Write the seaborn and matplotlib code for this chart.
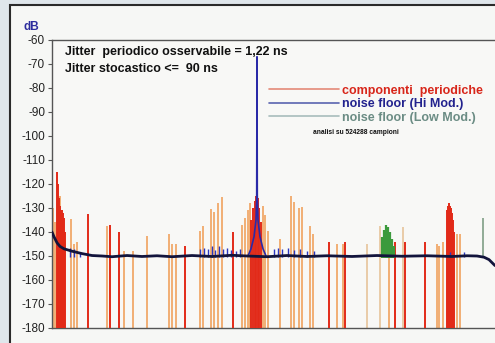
import numpy as np
import pandas as pd
import matplotlib
matplotlib.use("Agg")
import matplotlib.pyplot as plt
from matplotlib.lines import Line2D
from matplotlib.patches import Rectangle
import seaborn as sns

# === Data (x = frequency bin, y = dB) ===
red_x = [5, 6, 7, 8, 9, 10, 11, 12, 13, 36, 58, 67, 133, 181,
         199, 201, 203, 204, 206, 207, 209,
         277, 293, 343, 353, 373,
         395, 396, 397, 398, 399, 400, 401, 402]
red_db = [-115, -120, -126, -129, -131, -131, -132, -134, -140, -132.5, -137, -140, -146, -140,
          -135, -130, -127, -125, -126, -130, -136,
          -144, -144, -144, -144, -144,
          -131, -129, -128, -129, -130, -132, -135, -140]

orange_x = [1, 3, 8, 19, 22, 25, 55, 72, 81, 95, 117, 120, 124, 148, 151, 159, 162, 166, 170,
            190, 193, 196, 198, 211, 213, 216, 228, 239, 242, 247, 250, 258, 261, 285, 291, 337,
            385, 387, 391, 405, 408]
orange_db = [-130, -136, -125, -134.6, -145, -144, -137.5, -148, -148, -141.7, -141, -145, -145,
             -139.6, -137.5, -130.4, -131.7, -128, -125.4, -137, -134, -131, -128, -129, -133,
             -139.6, -143, -125, -127.5, -130, -129.6, -137.5, -141, -145, -145, -143,
             -145, -146, -144, -141, -141]

tan_x = [315, 328, 351]
tan_db = [-145, -137.5, -138]

green_x = [330, 332, 334, 336, 338, 340, 342, 431]
green_db = [-142, -139, -137, -138, -140, -143, -146, -134]

floor_x = [0, 2, 5, 8, 12, 16, 20, 25, 30, 40, 50, 60, 75, 90, 105, 120, 140, 160, 180, 195,
           215, 235, 255, 275, 300, 325, 350, 375, 400, 415, 425, 432, 437, 443]
floor_db = [-140, -142, -144.5, -146, -147, -147.5, -148, -148.5, -149, -149.8, -150, -150.3,
            -149.8, -150.2, -149.9, -150.3, -149.8, -150.2, -149.7, -150, -150.3, -149.8,
            -150.2, -149.9, -150.2, -149.8, -150.1, -149.9, -150.2, -149.9, -150, -150.5,
            -151.5, -154]

blue_spike_x = [18, 22, 28, 148, 152, 156, 160, 163, 167, 171, 175, 179, 184, 188,
                222, 226, 230, 236, 242, 248, 255, 262, 398, 412]
blue_spike_db = [-146.5, -147, -148.5, -147, -146.5, -147, -146, -147.5, -146, -147, -146.5,
                 -147.5, -148, -147, -147, -146.5, -147, -146.5, -147.5, -147, -148, -148,
                 -148.5, -148.5]

peak_x = [196, 199, 202, 204, 204.7, 205, 205.3, 206, 208, 211, 214]
peak_db = [-150, -147, -142, -135, -125, -67, -125, -135, -142, -147, -150]

legend_labels = ["componenti  periodiche", "noise floor (Hi Mod.)", "noise floor (Low Mod.)"]

# === Style ===
sns.set_theme(style="white")
plt.rcParams["font.family"] = ["Liberation Sans", "DejaVu Sans"]
plt.rcParams["axes.unicode_minus"] = False

fig = plt.figure(figsize=(4.95, 3.43), dpi=100)
fig.patch.set_facecolor("#dfe6eb")
fig.patches.append(Rectangle((10 / 495, -0.05), 1.0, 1.05 - 5 / 343, transform=fig.transFigure,
                             facecolor="#f6f7f5", edgecolor="#2a2a2a", lw=1.5, zorder=-10))

ax = fig.add_axes([52 / 495, 15 / 343, 443 / 495, 288 / 343])
ax.set_zorder(5)
ax.set_facecolor("#f8f8f6")

# periodic components
ax.vlines(tan_x, -180, tan_db, color="#e6c49a", lw=1.2, zorder=2)
ax.vlines(orange_x, -180, orange_db, color="#f0a25e", lw=1.2, zorder=2)
ax.vlines(red_x, -180, red_db, color="#e22a18", lw=1.4, zorder=3)
ax.vlines(green_x[:-1], -151, green_db[:-1], color="#3c9a3c", lw=1.6, zorder=3)
ax.vlines(green_x[-1:], -151, green_db[-1:], color="#7f9f86", lw=1.2, zorder=3)

# noise floor
ax.vlines(blue_spike_x, -150.5, blue_spike_db, color="#2a36c0", lw=1.0, zorder=4)
sns.lineplot(x=peak_x, y=peak_db, ax=ax, color="#2a2aa8", lw=1.2, sort=False, zorder=5)
sns.lineplot(x=floor_x, y=floor_db, ax=ax, color="#12143c", lw=2.0, sort=False, zorder=6)

ax.set_xlim(0, 443)
ax.set_ylim(-180, -60)
ax.set_yticks(range(-180, -59, 10))
ax.set_yticklabels([str(v) for v in range(-180, -59, 10)], fontsize=8.5, color="#222222")
ax.set_xticks([])
ax.tick_params(axis="y", direction="out", length=3, width=0.8, pad=2, color="#555555", left=True)
for side in ["left", "top", "bottom"]:
    ax.spines[side].set_color("#555555")
    ax.spines[side].set_linewidth(1.0)
ax.spines["right"].set_visible(False)

fig.text(24 / 495, 1 - 27 / 343, "dB", fontsize=8.5, color="#2e2e9e", fontweight="bold", va="center")

ax.text(0.03, 0.96, "Jitter  periodico osservabile = 1,22 ns", transform=ax.transAxes,
        fontsize=9, fontweight="bold", color="#111111", va="center")
ax.text(0.03, 0.90, "Jitter stocastico <=  90 ns", transform=ax.transAxes,
        fontsize=9, fontweight="bold", color="#111111", va="center")

handles = [Line2D([], [], color="#e48a78", lw=1.2),
           Line2D([], [], color="#5a64b0", lw=1.2),
           Line2D([], [], color="#a8bcbc", lw=1.2)]
leg = ax.legend(handles, legend_labels, loc="upper left", bbox_to_anchor=(0.49, 0.845),
                frameon=False, handlelength=5.6, handletextpad=0.2,
                labelspacing=0.12, borderpad=0, borderaxespad=0,
                prop={"weight": "bold", "size": 9})
for txt, col in zip(leg.get_texts(), ["#d8261a", "#22228e", "#6b8c84"]):
    txt.set_color(col)

ax.text(0.589, 0.68, "analisi su 524288 campioni", transform=ax.transAxes,
        fontsize=4.8, fontweight="bold", color="#111111", va="center")

fig.savefig("out.png", dpi=100, facecolor=fig.get_facecolor())
